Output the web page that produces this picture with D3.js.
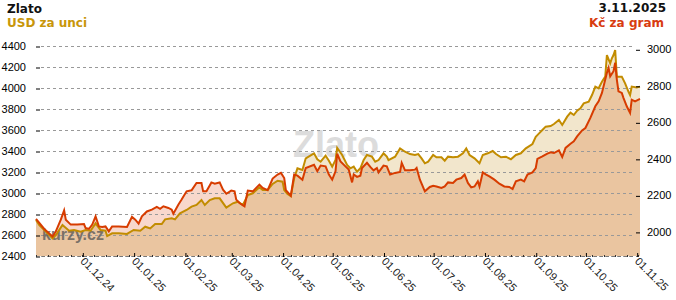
<!DOCTYPE html>
<html>
<head>
<meta charset="utf-8">
<script src="https://cdn.jsdelivr.net/npm/d3@7"></script>
<style>
  body { margin: 0; background: #fff; }
  svg { display: block; }
</style>
</head>
<body>
<div id="chart"></div>
<script>
// Zlato - USD za unci / Kc za gram, 3.11.2024 - 3.11.2025

// days since 3.11.2024 and price in USD per ounce
var usdDays = [0, 2, 5, 10, 12, 16, 20, 23, 27, 30, 33, 36, 39, 42, 43, 46, 50, 55, 59, 63, 66, 69, 72, 76, 78, 82, 84, 87, 91, 94,
    97, 100, 102, 105, 108, 111, 115, 119, 122, 125, 128, 131, 135, 137, 140, 143, 146, 149, 150, 152, 154, 156, 158, 161, 163, 168, 170, 172, 175, 177,
    179, 181, 182, 185, 188, 190, 192, 194, 196, 198, 200, 203, 205, 207, 210, 212, 213, 217, 220, 223, 226, 229, 231, 233, 235, 237, 240, 242, 245, 247,
    249, 252, 255, 258, 260, 262, 265, 268, 270, 273, 276, 278, 281, 284, 287, 290, 293, 296, 300, 302, 304, 306, 308, 311, 313, 316, 318, 321, 323, 325,
    327, 329, 331, 334, 336, 338, 340, 342, 344, 345, 347, 348, 349, 350, 351, 354, 356, 358, 359, 360, 363, 365];
var usdValues = [2743, 2695, 2648, 2568, 2600, 2695, 2641, 2648, 2632, 2648, 2641, 2711, 2648, 2641, 2590, 2616, 2616, 2610, 2648, 2641, 2679, 2663, 2705, 2705, 2749, 2759, 2749, 2806, 2838, 2870,
    2886, 2933, 2886, 2933, 2949, 2949, 2860, 2902, 2917, 2886, 2981, 2997, 3054, 3029, 3029, 3086, 3117, 3108, 3029, 2990, 2971, 3140, 3235, 3219, 3330, 3378, 3321, 3298, 3355, 3308,
    3251, 3314, 3430, 3362, 3267, 3235, 3251, 3203, 3235, 3314, 3362, 3346, 3298, 3314, 3378, 3346, 3314, 3346, 3425, 3393, 3371, 3362, 3371, 3330, 3283, 3298, 3362, 3340, 3340, 3308,
    3346, 3340, 3346, 3378, 3425, 3362, 3330, 3283, 3362, 3378, 3400, 3371, 3340, 3346, 3321, 3362, 3378, 3425, 3467, 3536, 3568, 3600, 3632, 3638, 3657, 3695, 3648, 3727, 3765, 3743,
    3784, 3806, 3854, 3870, 3933, 4013, 3997, 4060, 4108, 4314, 4235, 4283, 4314, 4362, 4108, 4108, 4044, 3965, 3933, 4013, 4006, 4013];

// days since 3.11.2024 and price in CZK per gram
var czkDays = [0, 2, 5, 10, 12, 15, 17, 18, 21, 25, 29, 30, 32, 34, 36, 38, 40, 42, 44, 46, 50, 55, 58, 60, 62, 64, 67, 70, 73, 75,
    77, 80, 82, 83, 86, 88, 91, 94, 97, 100, 101, 103, 106, 108, 111, 113, 115, 118, 120, 121, 123, 126, 128, 131, 135, 137, 140, 143, 146, 148,
    150, 151, 154, 156, 158, 161, 163, 168, 170, 172, 175, 177, 179, 181, 182, 184, 187, 189, 191, 192, 194, 196, 197, 200, 202, 204, 206, 207, 210, 212,
    214, 217, 220, 221, 223, 226, 229, 230, 232, 235, 238, 240, 242, 245, 247, 249, 252, 254, 257, 259, 261, 263, 265, 267, 268, 270, 272, 274, 277, 280,
    283, 286, 288, 290, 293, 295, 297, 300, 302, 303, 306, 309, 311, 313, 316, 318, 320, 323, 325, 327, 330, 332, 335, 338, 340, 342, 345, 346, 347, 349,
    350, 351, 352, 354, 355, 357, 359, 360, 362, 365];
var czkValues = [2071, 2049, 2016, 1975, 2003, 2067, 2118, 2067, 2040, 2040, 2043, 2021, 2016, 2040, 2085, 2030, 2027, 2030, 2003, 2030, 2030, 2027, 2082, 2067, 2045, 2085, 2112, 2122, 2137, 2126,
    2140, 2131, 2122, 2100, 2149, 2177, 2222, 2228, 2268, 2268, 2222, 2222, 2271, 2264, 2271, 2231, 2209, 2226, 2222, 2177, 2158, 2140, 2226, 2222, 2259, 2241, 2228, 2292, 2314, 2323,
    2295, 2228, 2198, 2314, 2308, 2286, 2350, 2368, 2332, 2363, 2359, 2314, 2286, 2332, 2428, 2386, 2359, 2341, 2271, 2314, 2301, 2308, 2350, 2378, 2356, 2337, 2350, 2326, 2363, 2359,
    2314, 2323, 2328, 2378, 2337, 2337, 2341, 2350, 2286, 2222, 2246, 2253, 2249, 2241, 2249, 2271, 2268, 2286, 2295, 2314, 2268, 2244, 2249, 2277, 2249, 2326, 2314, 2304, 2286, 2264,
    2249, 2246, 2235, 2277, 2286, 2277, 2314, 2326, 2350, 2400, 2414, 2429, 2436, 2432, 2447, 2410, 2460, 2483, 2496, 2523, 2556, 2569, 2624, 2688, 2715, 2761, 2871, 2898, 2852, 2880,
    2926, 2834, 2770, 2761, 2734, 2688, 2652, 2724, 2715, 2728];

var usdTicks = [2400, 2600, 2800, 3000, 3200, 3400, 3600, 3800, 4000, 4200, 4400];
var czkTicks = [2000, 2200, 2400, 2600, 2800, 3000];
var monthLabels = ["01.12.24", "01.01.25", "01.02.25", "01.03.25", "01.04.25", "01.05.25",
    "01.06.25", "01.07.25", "01.08.25", "01.09.25", "01.10.25", "01.11.25"];

var startDate = new Date(2024, 10, 3), endDate = new Date(2025, 10, 3);
var goldColor = "#c28c00", redColor = "#d73c00";

var margin = { top: 46, right: 36, bottom: 44, left: 36 },
    width = 676, height = 300;
var plotL = margin.left, plotR = width - margin.right, plotT = margin.top, plotB = height - margin.bottom;

var svg = d3.select("#chart").append("svg")
    .attr("width", width)
    .attr("height", height);

var x = d3.scaleTime().domain([startDate, endDate]).range([plotL, plotR]);
var yUsd = d3.scaleLinear().domain([2400, 4400]).range([plotB, plotT]);
var yCzk = d3.scaleLinear().domain([1868, 3018]).range([plotB, plotT]);

var usdData = usdDays.map((d, i) => ({ date: d3.timeDay.offset(startDate, d), v: usdValues[i] }));
var czkData = czkDays.map((d, i) => ({ date: d3.timeDay.offset(startDate, d), v: czkValues[i] }));

// watermark behind everything
svg.append("text")
    .attr("x", 336)
    .attr("y", 157)
    .attr("text-anchor", "middle")
    .attr("font-family", "Liberation Sans, Arial, sans-serif")
    .attr("font-weight", "bold")
    .attr("font-size", "36px")
    .attr("fill", "#dcdcdc")
    .text("Zlato");

// areas
var usdArea = d3.area().x(d => x(d.date)).y0(plotB).y1(d => yUsd(d.v));
var czkArea = d3.area().x(d => x(d.date)).y0(plotB).y1(d => yCzk(d.v));

svg.append("defs").append("clipPath")
    .attr("id", "czkClip")
    .append("path")
    .attr("d", czkArea(czkData));

svg.append("path").attr("d", usdArea(usdData)).attr("fill", "#f2e6cc");
svg.append("path").attr("d", czkArea(czkData)).attr("fill", "#f8d8cc");
svg.append("path").attr("d", usdArea(usdData)).attr("fill", "#eac5a0")
    .attr("clip-path", "url(#czkClip)");

// grid lines
svg.append("g")
    .selectAll("line")
    .data(usdTicks)
    .enter()
    .append("line")
    .attr("x1", plotL + 5)
    .attr("x2", plotR - 7)
    .attr("y1", d => Math.round(yUsd(d)) + 0.5)
    .attr("y2", d => Math.round(yUsd(d)) + 0.5)
    .attr("stroke", "#999")
    .attr("stroke-dasharray", "3,3");

svg.append("text")
    .attr("x", 42)
    .attr("y", 240)
    .attr("font-family", "Liberation Sans, Arial, sans-serif")
    .attr("font-weight", "bold")
    .attr("font-size", "16px")
    .attr("fill", "#555")
    .attr("opacity", 0.75)
    .text("kurzy.cz");

// lines
var usdLine = d3.line().x(d => x(d.date)).y(d => yUsd(d.v));
var czkLine = d3.line().x(d => x(d.date)).y(d => yCzk(d.v));

svg.append("path").attr("d", usdLine(usdData))
    .attr("fill", "none").attr("stroke", goldColor).attr("stroke-width", 2);
svg.append("path").attr("d", czkLine(czkData))
    .attr("fill", "none").attr("stroke", redColor).attr("stroke-width", 2);

// left axis
var leftAxis = svg.append("g")
    .attr("transform", "translate(" + plotL + ",0)")
    .call(d3.axisLeft(yUsd).tickValues(usdTicks).tickSize(0).tickPadding(10).tickFormat(d3.format("d")));
leftAxis.select(".domain").remove();
leftAxis.selectAll("text")
    .attr("font-family", "Liberation Sans, Arial, sans-serif")
    .attr("font-size", "11px")
    .attr("fill", "#000");
leftAxis.selectAll(".tick").append("line")
    .attr("x1", 0).attr("x2", 4)
    .attr("y1", 0.5).attr("y2", 0.5)
    .attr("stroke", "#000");

// right axis
var rightAxis = svg.append("g")
    .attr("transform", "translate(" + plotR + ",0)")
    .call(d3.axisRight(yCzk).tickValues(czkTicks).tickSize(0).tickPadding(7).tickFormat(d3.format("d")));
rightAxis.select(".domain").remove();
rightAxis.selectAll("text")
    .attr("font-family", "Liberation Sans, Arial, sans-serif")
    .attr("font-size", "11px")
    .attr("fill", "#000");
rightAxis.selectAll(".tick").append("line")
    .attr("x1", -4).attr("x2", 0)
    .attr("y1", 0.5).attr("y2", 0.5)
    .attr("stroke", "#000");

// bottom axis
svg.append("line")
    .attr("x1", plotL).attr("x2", plotR)
    .attr("y1", plotB + 0.5).attr("y2", plotB + 0.5)
    .attr("stroke", "#777")
    .attr("stroke-dasharray", "3,3");

svg.append("g")
    .selectAll("line")
    .data(d3.timeWeek.range(startDate, endDate))
    .enter()
    .append("line")
    .attr("x1", d => Math.round(x(d)) + 0.5)
    .attr("x2", d => Math.round(x(d)) + 0.5)
    .attr("y1", plotB - 1)
    .attr("y2", plotB + 1)
    .attr("stroke", "#333");

var months = d3.timeMonth.range(d3.timeDay.offset(startDate, 1), endDate);
var xAxis = svg.append("g")
    .attr("transform", "translate(0," + plotB + ")")
    .call(d3.axisBottom(x).tickValues(months).tickSize(0).tickFormat((d, i) => monthLabels[i]));
xAxis.select(".domain").remove();
xAxis.selectAll(".tick").append("line")
    .attr("x1", 0.5).attr("x2", 0.5)
    .attr("y1", -3).attr("y2", 1)
    .attr("stroke", "#000");
xAxis.selectAll("text")
    .attr("font-family", "Liberation Sans, Arial, sans-serif")
    .attr("font-size", "11px")
    .attr("fill", "#222")
    .attr("text-anchor", "start")
    .attr("dy", null)
    .attr("y", 0)
    .attr("transform", "translate(-3,6) rotate(45)");

// titles
function title(txt, xPos, yPos, anchor, color) {
    svg.append("text")
        .attr("x", xPos)
        .attr("y", yPos)
        .attr("text-anchor", anchor)
        .attr("font-family", "DejaVu Sans, Verdana, sans-serif")
        .attr("font-weight", "bold")
        .attr("font-size", "12px")
        .attr("fill", color)
        .text(txt);
}
title("Zlato", 7, 13, "start", "#111");
title("USD za unci", 7, 27, "start", "#c8960a");
title("3.11.2025", 666, 12, "end", "#111");
title("Kč za gram", 664, 27, "end", "#d83c10");
</script>
</body>
</html>
